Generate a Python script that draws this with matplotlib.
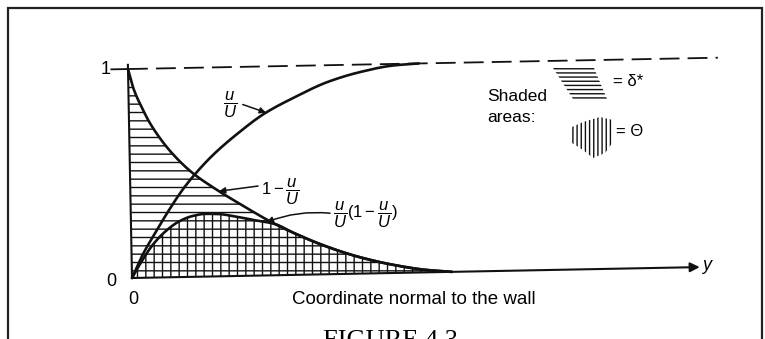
import numpy as np
import matplotlib.pyplot as plt
from matplotlib.patches import Polygon, Rectangle
from matplotlib.transforms import Affine2D

plt.rcParams["font.family"] = ["Liberation Sans", "DejaVu Sans"]
plt.rcParams["mathtext.fontset"] = "custom"
plt.rcParams["mathtext.rm"] = "Liberation Sans"
plt.rcParams["mathtext.it"] = "Liberation Sans:italic"
plt.rcParams["hatch.linewidth"] = 1.0

# values; x is in units of the distance where u/U reaches 1
x_u = [0, 0.04, 0.09, 0.14, 0.19, 0.234, 0.30, 0.39, 0.49, 0.60, 0.72, 0.84, 0.96, 1.05]
u_U = [0, 0.11, 0.22, 0.325, 0.42, 0.49, 0.58, 0.68, 0.775, 0.85, 0.92, 0.965, 0.993, 1.0]

x_def = [0, 0.02, 0.049, 0.071, 0.106, 0.152, 0.223, 0.30, 0.40, 0.52, 0.58, 0.70, 0.82,
         0.94, 1.06, 1.155]
one_minus = [1.0, 0.90, 0.81, 0.75, 0.675, 0.595, 0.50, 0.425, 0.34, 0.245, 0.205, 0.135,
             0.08, 0.04, 0.012, 0.0]

x_th = [0, 0.02, 0.039, 0.076, 0.124, 0.172, 0.22, 0.268, 0.316, 0.376, 0.436, 0.52,
        0.58, 0.70, 0.82, 0.94, 1.06, 1.155]
prod = [0, 0.045, 0.085, 0.155, 0.22, 0.265, 0.29, 0.30, 0.298, 0.285, 0.268, 0.245,
        0.205, 0.135, 0.08, 0.04, 0.012, 0.0]

x_end = 2.05      # end of the y-coordinate axis arrow
dash_end = 2.13   # end of the U line

W, H = 765, 339
X0, Y0, SX, SY = 132, 278, 277, 209   # pixel position of origin and unit lengths
SKEW = 1.1                            # the scanned sketch sits slightly rotated


def fpx(xp, yp):
    """reference pixel -> figure fraction"""
    return xp / W, 1 - yp / H


def smooth(x, y, n=300):
    """monotone cubic through the read points, only for drawing a smooth pen line"""
    x = np.asarray(x, float)
    y = np.asarray(y, float)
    h = np.diff(x)
    d = np.diff(y) / h
    m = np.zeros_like(y)
    m[0], m[-1] = d[0], d[-1]
    for i in range(1, len(x) - 1):
        if d[i - 1] * d[i] > 0:
            w1, w2 = 2 * h[i] + h[i - 1], h[i] + 2 * h[i - 1]
            m[i] = (w1 + w2) / (w1 / d[i - 1] + w2 / d[i])
    xs = np.linspace(x[0], x[-1], n)
    k = np.clip(np.searchsorted(x, xs) - 1, 0, len(h) - 1)
    t = (xs - x[k]) / h[k]
    ys = ((2 * t**3 - 3 * t**2 + 1) * y[k] + (t**3 - 2 * t**2 + t) * h[k] * m[k]
          + (-2 * t**3 + 3 * t**2) * y[k + 1] + (t**3 - t**2) * h[k] * m[k + 1])
    return xs, ys


fig = plt.figure(figsize=(W / 100, H / 100), dpi=100)
ax = fig.add_axes([0, 0, 1, 1])
ax.set_xlim(-X0 / SX, (W - X0) / SX)
ax.set_ylim(-(H - Y0) / SY, Y0 / SY)
ax.axis("off")
ink = "#111111"
tr = ax.transData + Affine2D().rotate_deg_around(X0, H - Y0, SKEW)

xs_u, ys_u = smooth(x_u, u_U)
xs_d, ys_d = smooth(x_def, one_minus)
xs_t, ys_t = smooth(x_th, prod)

# shaded areas
ax.fill_between(xs_d, 0, ys_d, facecolor="none", edgecolor=ink, hatch="--", lw=0, transform=tr)
ax.fill_between(xs_t, 0, ys_t, facecolor="none", edgecolor=ink, hatch="||", lw=0, transform=tr)

# curves
for xs, ys in [(xs_u, ys_u), (xs_d, ys_d), (xs_t, ys_t)]:
    ax.plot(xs, ys, color=ink, lw=1.9, solid_capstyle="round", transform=tr)

# axes and the free-stream line
ax.plot([0, 0], [0, 1.02], color=ink, lw=1.5, transform=tr)
ax.plot([-0.06, 0], [1, 1], color=ink, lw=1.3, transform=tr)
ax.plot([0, dash_end], [1, 1], color=ink, lw=1.3, linestyle=(0, (11, 4.5)), transform=tr)
ax.annotate("", xy=(x_end, 0), xytext=(0, 0), xycoords=tr, textcoords=tr,
            arrowprops=dict(arrowstyle="-|>", color=ink, lw=1.5, mutation_scale=14,
                            shrinkA=0, shrinkB=0))

ax.text(*fpx(111, 70), "1", transform=fig.transFigure, fontsize=13, ha="right", va="center")
ax.text(*fpx(116, 281), "0", transform=fig.transFigure, fontsize=13, ha="right", va="center")
ax.text(*fpx(133, 299), "0", transform=fig.transFigure, fontsize=13, ha="center", va="center")
ax.text(*fpx(702, 265), "y", transform=fig.transFigure, fontsize=13, style="italic",
        ha="left", va="center")
ax.text(*fpx(414, 299), "Coordinate normal to the wall", transform=fig.transFigure,
        fontsize=13.5, ha="center", va="center")

# curve labels with arrows pointing onto the curves
arrow = dict(arrowstyle="-|>", color=ink, lw=1.1, mutation_scale=9, shrinkA=0, shrinkB=0)

tip = 0.495
ax.text(0.354, 0.83, r"$\dfrac{u}{U}$", fontsize=12, ha="center", va="center")
ax.annotate("", xy=(tip, np.interp(tip, xs_u, ys_u)), xycoords=tr, xytext=(0.40, 0.83),
            textcoords="data", arrowprops=arrow)

tip = 0.32
ax.text(0.465, 0.41, r"$1-\dfrac{u}{U}$", fontsize=12, ha="left", va="center")
ax.annotate("", xy=(tip, np.interp(tip, xs_d, ys_d)), xycoords=tr, xytext=(0.455, 0.44),
            textcoords="data", arrowprops=arrow)

tip = 0.49
ax.text(0.725, 0.30, r"$\dfrac{u}{U}(1-\dfrac{u}{U})$", fontsize=12, ha="left", va="center")
ax.annotate("", xy=(tip, np.interp(tip, xs_t, ys_t)), xycoords=tr, xytext=(0.715, 0.31),
            textcoords="data", arrowprops=dict(arrow, connectionstyle="arc3,rad=0.12"))

# key for the shaded areas
ax.text(*fpx(487, 97), "Shaded", transform=fig.transFigure, fontsize=12.5, ha="left", va="center")
ax.text(*fpx(487, 117), "areas:", transform=fig.transFigure, fontsize=12.5, ha="left", va="center")

key_d = [fpx(553, 68), fpx(594, 68), fpx(607, 99), fpx(573, 99)]
fig.patches.append(Polygon(key_d, closed=True, transform=fig.transFigure, facecolor="none",
                           edgecolor=ink, hatch="----", lw=0))
ax.text(*fpx(613, 82), "= δ*", transform=fig.transFigure, fontsize=12, ha="left", va="center")

key_t = [fpx(572, 127), fpx(583, 122), fpx(600, 117), fpx(613, 120), fpx(613, 142),
         fpx(605, 153), fpx(593, 158), fpx(583, 150), fpx(572, 143)]
fig.patches.append(Polygon(key_t, closed=True, transform=fig.transFigure, facecolor="none",
                           edgecolor=ink, hatch="||||", lw=0))
ax.text(*fpx(616, 132), "= Θ", transform=fig.transFigure, fontsize=12, ha="left", va="center")

# page frame and the caption cut off by the crop, as on the scanned page
x_l, y_t = fpx(8, 8)
x_r, _ = fpx(762, 8)
fig.patches.append(Rectangle((x_l, -0.1), x_r - x_l, y_t + 0.1, transform=fig.transFigure,
                             facecolor="none", edgecolor="#222222", lw=1.6))
fig.text(*fpx(390, 330), "FIGURE 4.3", family="Liberation Serif", fontsize=19,
         ha="center", va="top")

fig.savefig("out.png", dpi=100)
